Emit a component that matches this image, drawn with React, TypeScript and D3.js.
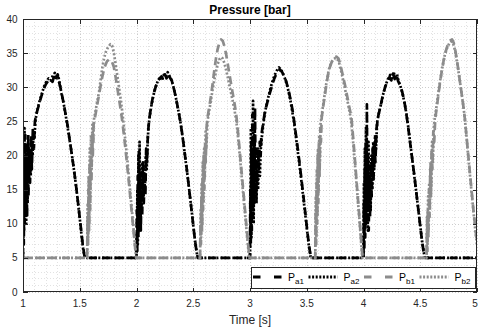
import React from 'react';
import * as d3 from 'd3';

const W = 478;
const H = 333;
const X0 = 23, X1 = 477, Y0 = 292, Y1 = 19;

const xTickValues = [1, 1.5, 2, 2.5, 3, 3.5, 4, 4.5, 5];
const xTickLabels = ['1', '1.5', '2', '2.5', '3', '3.5', '4', '4.5', '5'];
const yTickValues = [0, 5, 10, 15, 20, 25, 30, 35, 40];
const yTickLabels = ['0', '5', '10', '15', '20', '25', '30', '35', '40'];

type P = [number, number];

const pa1: P[] = [
  [1.000,5],[1.003,14],[1.007,7],[1.011,19],[1.015,10],[1.020,23],[1.025,12],[1.030,20],[1.036,11],[1.042,22],[1.048,14],[1.055,21],[1.062,16],[1.070,23],[1.078,18],[1.087,24],[1.096,21],[1.105,25],[1.12,26.2],[1.14,27.4],[1.16,28.6],[1.18,29.6],[1.20,30.4],[1.22,30.9],[1.24,31.2],[1.26,30.8],[1.275,31.7],[1.29,31.1],[1.305,31.9],[1.32,30.6],[1.335,29.6],[1.35,28.3],[1.365,27.0],[1.38,25.6],[1.395,24.2],[1.41,22.4],[1.43,20.2],[1.45,17.8],[1.47,15.2],[1.49,12.3],[1.51,9.4],[1.525,7.2],[1.54,5.4],[1.548,5],
  [2.000,5],[2.003,12],[2.007,6],[2.011,17],[2.016,8],[2.021,21],[2.026,10],[2.032,18],[2.038,9],[2.044,16],[2.050,11],[2.057,19],[2.064,13],[2.071,17],[2.078,14],[2.085,21],[2.093,19],[2.10,23],[2.11,25],[2.125,26.8],[2.14,28.2],[2.16,29.6],[2.18,30.6],[2.20,31.2],[2.22,31.6],[2.235,31.1],[2.25,31.9],[2.265,31.3],[2.28,32.0],[2.295,31.4],[2.31,31.0],[2.325,30.1],[2.34,29.0],[2.355,27.8],[2.37,26.5],[2.385,25.1],[2.40,23.5],[2.42,21.0],[2.44,18.4],[2.46,15.6],[2.48,12.7],[2.50,9.8],[2.515,7.6],[2.53,5.8],[2.54,5],
  [3.000,5],[3.003,15],[3.007,7],[3.011,22],[3.016,9],[3.021,26],[3.026,11],[3.032,20],[3.038,13],[3.044,27],[3.050,15],[3.056,19],[3.063,16],[3.070,21],[3.078,18],[3.086,22],[3.094,20],[3.10,23],[3.115,24.6],[3.13,26.3],[3.15,27.6],[3.17,28.9],[3.19,30.0],[3.21,31.1],[3.23,31.9],[3.25,32.4],[3.265,32.6],[3.28,32.3],[3.30,31.7],[3.32,30.8],[3.34,29.5],[3.36,28.0],[3.375,26.6],[3.39,24.9],[3.41,22.4],[3.43,19.8],[3.45,17.0],[3.47,14.1],[3.49,11.2],[3.505,8.9],[3.52,6.8],[3.535,5.2],[3.54,5],
  [4.000,5],[4.003,13],[4.007,6],[4.011,18],[4.015,8],[4.020,22],[4.025,10],[4.030,27.5],[4.034,12],[4.040,20],[4.046,9],[4.052,17],[4.058,11],[4.065,19],[4.072,14],[4.080,21],[4.088,16],[4.096,22],[4.105,19],[4.115,24],[4.13,25.8],[4.15,27.2],[4.17,28.8],[4.19,30.0],[4.21,30.9],[4.23,31.5],[4.245,31.0],[4.26,32.0],[4.275,31.2],[4.29,31.8],[4.305,30.9],[4.32,30.4],[4.34,29.4],[4.36,27.9],[4.375,26.4],[4.39,24.6],[4.41,22.0],[4.43,19.4],[4.45,16.8],[4.47,13.9],[4.49,11.1],[4.505,8.9],[4.52,7.0],[4.535,5.3],[4.545,5],[5.0,5],
];

const pa2: P[] = [
  [1.000,5],[1.005,18],[1.009,9],[1.013,24],[1.018,13],[1.023,21],[1.028,10],[1.034,19],[1.040,13],[1.046,23],[1.053,16],[1.060,20],[1.068,17],[1.076,22],[1.084,20],[1.092,23],[1.10,22.5],[1.11,25.2],[1.125,26.6],[1.145,27.9],[1.165,29.0],[1.185,30.1],[1.205,30.8],[1.225,31.3],[1.245,31.0],[1.26,31.6],[1.28,32.1],[1.295,31.3],[1.31,31.7],[1.325,30.4],[1.34,29.0],[1.355,27.9],[1.37,26.5],[1.385,25.0],[1.40,23.4],[1.42,21.3],[1.44,19.0],[1.46,16.5],[1.48,13.8],[1.50,10.8],[1.515,8.4],[1.53,6.3],[1.545,5],
  [2.000,5],[2.004,9],[2.008,15],[2.012,7],[2.017,20],[2.022,9],[2.027,22],[2.033,11],[2.039,17],[2.045,12],[2.052,19],[2.059,14],[2.066,18],[2.074,15],[2.082,20],[2.090,18],[2.098,22],[2.105,24],[2.115,25.6],[2.13,27.2],[2.15,28.9],[2.17,30.1],[2.19,31.0],[2.21,31.5],[2.225,31.0],[2.24,31.8],[2.26,31.5],[2.275,32.2],[2.29,31.6],[2.305,31.2],[2.32,30.4],[2.335,29.4],[2.35,28.2],[2.365,26.9],[2.38,25.6],[2.395,24.1],[2.41,22.2],[2.43,19.6],[2.45,17.0],[2.47,14.2],[2.49,11.3],[2.505,9.0],[2.52,7.0],[2.535,5.3],[2.542,5],
  [3.000,5],[3.004,11],[3.008,24],[3.012,8],[3.017,19],[3.022,12],[3.027,28],[3.032,10],[3.038,23],[3.044,14],[3.050,21],[3.057,13],[3.064,18],[3.071,15],[3.079,20],[3.087,17],[3.095,21],[3.105,22.8],[3.12,24.9],[3.135,26.6],[3.155,28.1],[3.175,29.5],[3.195,30.7],[3.215,31.7],[3.235,32.4],[3.255,32.9],[3.27,32.7],[3.285,32.2],[3.305,31.4],[3.325,30.4],[3.345,29.0],[3.36,27.7],[3.375,26.2],[3.39,24.6],[3.41,22.0],[3.43,19.4],[3.45,16.7],[3.47,13.8],[3.49,10.9],[3.505,8.7],[3.52,6.6],[3.535,5],
  [4.000,5],[4.004,16],[4.008,8],[4.012,21],[4.017,10],[4.022,24],[4.027,12],[4.032,18],[4.038,9],[4.044,22],[4.050,13],[4.056,18],[4.063,12],[4.070,20],[4.078,15],[4.086,22],[4.094,18],[4.102,23],[4.11,21],[4.12,24.8],[4.135,26.2],[4.155,27.6],[4.175,29.1],[4.195,30.3],[4.215,31.2],[4.235,31.8],[4.25,31.3],[4.265,32.2],[4.28,31.5],[4.295,31.9],[4.31,30.8],[4.325,30.2],[4.345,29.0],[4.365,27.4],[4.38,25.9],[4.395,24.1],[4.415,21.4],[4.435,18.7],[4.455,16.0],[4.475,13.2],[4.495,10.4],[4.51,8.3],[4.525,6.4],[4.54,5],[5.0,5],
];

const pb1: P[] = [
  [1.0,5],[1.565,5],[1.569,11],[1.573,7],[1.577,15],[1.582,9],[1.587,19],[1.592,12],[1.597,21],[1.603,16],[1.609,23],[1.615,20],[1.622,24.5],[1.63,25.2],[1.645,26.6],[1.66,28.0],[1.675,29.4],[1.69,30.8],[1.705,32.0],[1.72,33.0],[1.74,33.8],[1.76,34.1],[1.78,33.9],[1.80,33.0],[1.815,31.6],[1.83,30.0],[1.845,28.4],[1.86,26.8],[1.875,25.0],[1.89,22.9],[1.905,20.6],[1.92,18.2],[1.935,15.7],[1.95,13.1],[1.965,10.5],[1.98,7.9],[1.993,5.6],[1.998,5],
  [2.56,5],[2.564,10],[2.568,7],[2.572,14],[2.577,9],[2.582,17],[2.587,12],[2.592,20],[2.598,15],[2.604,22],[2.61,19],[2.617,24],[2.625,25.5],[2.64,27.0],[2.655,28.6],[2.67,30.4],[2.685,32.4],[2.70,34.2],[2.715,35.6],[2.73,36.5],[2.745,37.0],[2.76,36.8],[2.775,36.0],[2.79,34.8],[2.805,33.3],[2.82,31.8],[2.835,30.3],[2.85,28.9],[2.865,27.5],[2.88,25.8],[2.895,23.3],[2.91,20.6],[2.925,17.8],[2.94,15.0],[2.955,12.2],[2.97,9.4],[2.985,6.7],[2.995,5],
  [3.575,5],[3.579,12],[3.583,7],[3.587,16],[3.592,10],[3.597,20],[3.602,13],[3.607,22],[3.613,17],[3.619,24],[3.625,22],[3.632,25.6],[3.645,27.2],[3.66,28.9],[3.675,30.6],[3.69,32.0],[3.705,33.0],[3.72,33.7],[3.74,34.2],[3.76,34.5],[3.78,34.2],[3.795,33.4],[3.81,32.3],[3.825,31.2],[3.84,30.1],[3.855,28.8],[3.87,27.5],[3.885,26.3],[3.895,25.3],[3.91,22.4],[3.925,19.3],[3.94,16.0],[3.955,12.8],[3.97,9.6],[3.982,7.0],[3.992,5],
  [4.555,5],[4.559,9],[4.563,6],[4.567,12],[4.572,8],[4.577,15],[4.582,11],[4.588,18],[4.594,14],[4.600,21],[4.607,18],[4.615,23.5],[4.623,22],[4.632,25.3],[4.645,27.0],[4.66,28.9],[4.675,30.8],[4.69,32.4],[4.705,33.8],[4.72,35.0],[4.74,36.1],[4.76,36.8],[4.78,37.0],[4.795,36.5],[4.81,35.3],[4.825,33.8],[4.84,32.0],[4.855,30.2],[4.87,28.4],[4.885,26.6],[4.895,25.0],[4.91,22.4],[4.925,19.7],[4.94,17.0],[4.955,14.4],[4.97,11.8],[4.985,9.4],[5.0,7.2],
];

const pb2: P[] = [
  [1.0,5],[1.565,5],[1.570,13],[1.574,8],[1.578,17],[1.583,10],[1.588,21],[1.593,14],[1.599,23],[1.605,18],[1.611,24.5],[1.618,22],[1.626,25.4],[1.64,26.6],[1.655,28.0],[1.67,29.3],[1.685,31.2],[1.70,33.0],[1.715,34.3],[1.73,35.2],[1.75,35.9],[1.77,36.3],[1.785,36.1],[1.80,35.1],[1.815,33.5],[1.83,31.8],[1.845,30.1],[1.86,28.3],[1.875,26.4],[1.89,24.1],[1.905,21.7],[1.92,19.2],[1.935,16.5],[1.95,13.7],[1.965,10.9],[1.98,8.1],[1.992,5.8],[1.998,5],
  [2.56,5],[2.565,12],[2.569,8],[2.574,16],[2.579,10],[2.584,19],[2.59,13],[2.596,21],[2.602,17],[2.609,23.5],[2.616,21],[2.625,25.0],[2.64,26.5],[2.655,28.0],[2.67,29.6],[2.685,31.0],[2.70,32.3],[2.715,33.4],[2.73,34.1],[2.745,34.4],[2.76,34.2],[2.775,33.5],[2.79,32.5],[2.805,31.4],[2.82,30.2],[2.835,29.0],[2.85,27.8],[2.865,26.5],[2.88,25.0],[2.895,22.6],[2.91,20.0],[2.925,17.2],[2.94,14.4],[2.955,11.7],[2.97,8.9],[2.985,6.3],[2.993,5],
  [3.575,5],[3.58,14],[3.584,8],[3.589,18],[3.594,11],[3.599,21],[3.604,15],[3.61,23],[3.616,19],[3.622,24.8],[3.63,25.6],[3.64,26.9],[3.655,28.6],[3.67,30.3],[3.685,31.8],[3.70,32.9],[3.715,33.6],[3.735,34.1],[3.755,34.3],[3.77,34.1],[3.785,33.6],[3.80,32.6],[3.815,31.5],[3.83,30.3],[3.845,29.1],[3.86,27.9],[3.875,26.6],[3.89,25.2],[3.905,22.6],[3.92,19.7],[3.935,16.6],[3.95,13.5],[3.965,10.4],[3.978,7.6],[3.99,5],
  [4.555,5],[4.56,11],[4.564,7],[4.569,14],[4.574,9],[4.579,16],[4.585,12],[4.591,19],[4.597,15],[4.604,22],[4.611,19],[4.619,24],[4.628,25.5],[4.64,26.8],[4.655,28.6],[4.67,30.4],[4.685,32.0],[4.70,33.4],[4.715,34.6],[4.735,35.7],[4.755,36.4],[4.775,36.7],[4.79,36.4],[4.805,35.5],[4.82,34.1],[4.835,32.5],[4.85,30.8],[4.865,29.0],[4.88,27.2],[4.893,25.4],[4.905,23.2],[4.92,20.4],[4.935,17.7],[4.95,15.0],[4.965,12.4],[4.98,9.9],[4.995,7.6],[5.0,6.8],
];

const seriesData = [pa1, pa2, pb1, pb2];
const seriesSub = ['a1', 'a2', 'b1', 'b2'];
const seriesColor = ['#000000', '#000000', '#8c8c8c', '#8c8c8c'];
const seriesDash = ['8 5', '2 2', '8 5', '2 2'];
const legendDash = ['7.5 13.5', '2 1.6', '7.5 13.5', '2 1.6'];

const titleText = 'Pressure [bar]';
const xLabelText = 'Time [s]';

export default function App() {
  const x = d3.scaleLinear().domain([1, 5]).range([X0, X1]);
  const y = d3.scaleLinear().domain([0, 40]).range([Y0, Y1]);
  const line = d3.line<P>().x(d => x(d[0])).y(d => y(d[1]));
  const minorX = x.ticks(40);
  const minorY = y.ticks(40);
  const font = 'Liberation Sans, Arial, Helvetica, sans-serif';
  const axisColor = '#262626';
  const legX = 251, legY = 266.5, legW = 224, legH = 21.5;
  const entryStep = 55.5;
  const legLineY = 277;

  return (
    <svg width={W} height={H} style={{ position: 'absolute', left: 0, top: 0, background: '#fff' }}
      fontFamily={font}>
      <rect x={0} y={0} width={W} height={H} fill="#fff" />
      <defs>
        <clipPath id="plotclip">
          <rect x={X0} y={Y1} width={X1 - X0} height={Y0 - Y1} />
        </clipPath>
      </defs>
      {/* minor grid */}
      <g stroke="#e2e2e2" strokeWidth={1} strokeDasharray="1 2" shapeRendering="crispEdges">
        {minorX.map((v, i) => (
          <line key={'mx' + i} x1={Math.round(x(v)) + 0.5} x2={Math.round(x(v)) + 0.5} y1={Y1} y2={Y0} />
        ))}
        {minorY.map((v, i) => (
          <line key={'my' + i} y1={Math.round(y(v)) + 0.5} y2={Math.round(y(v)) + 0.5} x1={X0} x2={X1} />
        ))}
      </g>
      {/* major grid */}
      <g stroke="#cccccc" strokeWidth={1} strokeDasharray="1 2" shapeRendering="crispEdges">
        {xTickValues.map((v, i) => (
          <line key={'gx' + i} x1={Math.round(x(v)) + 0.5} x2={Math.round(x(v)) + 0.5} y1={Y1} y2={Y0} />
        ))}
        {yTickValues.map((v, i) => (
          <line key={'gy' + i} y1={Math.round(y(v)) + 0.5} y2={Math.round(y(v)) + 0.5} x1={X0} x2={X1} />
        ))}
      </g>
      {/* data */}
      <g clipPath="url(#plotclip)" fill="none">
        {seriesData.map((d, i) => (
          <path key={'s' + i} d={line(d) || ''} stroke={seriesColor[i]} strokeWidth={2.7}
            strokeDasharray={seriesDash[i]} strokeLinejoin="round" />
        ))}
      </g>
      {/* axes box */}
      <rect x={X0 + 0.5} y={Y1 + 0.5} width={X1 - X0 - 1} height={Y0 - Y1 - 1} fill="none"
        stroke={axisColor} strokeWidth={1} shapeRendering="crispEdges" />
      {/* ticks */}
      <g stroke={axisColor} strokeWidth={1} shapeRendering="crispEdges">
        {xTickValues.map((v, i) => {
          const px = Math.round(x(v)) + 0.5;
          return (
            <g key={'tx' + i}>
              <line x1={px} x2={px} y1={Y0} y2={Y0 - 4.5} />
              <line x1={px} x2={px} y1={Y1} y2={Y1 + 4.5} />
            </g>
          );
        })}
        {yTickValues.map((v, i) => {
          const py = Math.round(y(v)) + 0.5;
          return (
            <g key={'ty' + i}>
              <line x1={X0} x2={X0 + 4.5} y1={py} y2={py} />
              <line x1={X1} x2={X1 - 4.5} y1={py} y2={py} />
            </g>
          );
        })}
      </g>
      {/* tick labels */}
      <g fill={axisColor} fontSize={10}>
        {xTickValues.map((v, i) => (
          <text key={'lx' + i} x={Math.min(x(v), 475)} y={307} textAnchor="middle">{xTickLabels[i]}</text>
        ))}
        {yTickValues.map((v, i) => (
          <text key={'ly' + i} x={17.5} y={y(v) + 3.6} textAnchor="end">{yTickLabels[i]}</text>
        ))}
      </g>
      {/* title & label */}
      <text x={(X0 + X1) / 2} y={13.5} textAnchor="middle" fontWeight="bold" fontSize={12} fill="#000">{titleText}</text>
      <text x={(X0 + X1) / 2} y={324} textAnchor="middle" fontSize={12} fill={axisColor}>{xLabelText}</text>
      {/* legend */}
      <rect x={legX + 0.5} y={legY + 0.5} width={legW} height={legH} fill="#fff" stroke={axisColor}
        strokeWidth={1} shapeRendering="crispEdges" />
      {seriesSub.map((s, i) => {
        const ex = legX + 2 + i * entryStep;
        return (
          <g key={'lg' + i}>
            <line x1={ex} x2={ex + 29} y1={legLineY} y2={legLineY} stroke={seriesColor[i]} strokeWidth={2.8}
              strokeDasharray={legendDash[i]} />
            <text x={ex + 35} y={280.5} fontSize={10.5} fill="#000">
              P<tspan fontSize={8} dy={3}>{s}</tspan>
            </text>
          </g>
        );
      })}
    </svg>
  );
}
